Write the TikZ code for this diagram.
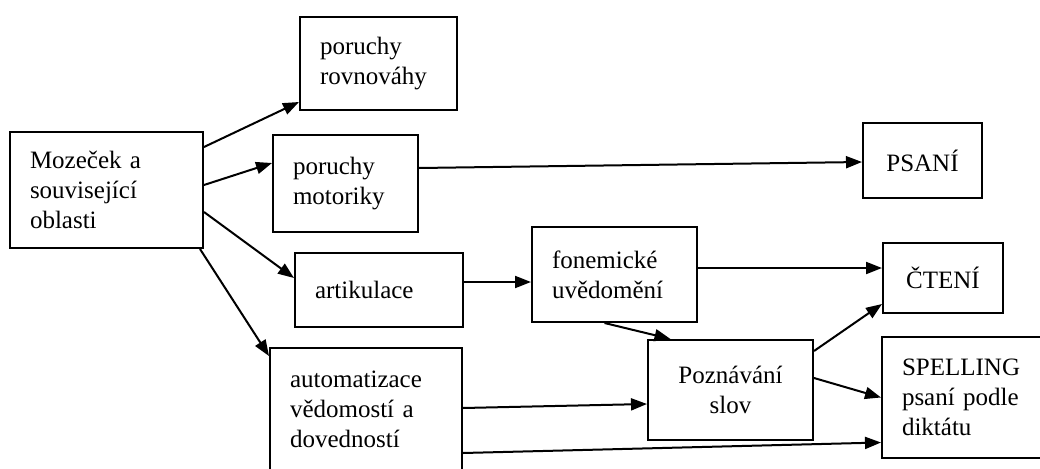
\documentclass[tikz,border=0pt]{standalone}
\usepackage{fontspec}
\setmainfont{Liberation Serif}
\usepackage{tikz}
\usetikzlibrary{arrows.meta}

\begin{document}
\begin{tikzpicture}[x=1pt, y=-1pt]
        % Define block styles
        \tikzstyle{block} = [rectangle, draw, line width=2pt, inner xsep=20pt, inner ysep=0pt,
                             align=left, font=\fontsize{25}{30}\selectfont]
        \tikzstyle{arrow} = [line width=2pt, -{Triangle[length=16pt, width=12pt]}]

        \useasboundingbox (0,0) rectangle (1040,468);

        % Blocks
        \node (mozecek) [block, text width=153pt, minimum height=116pt] at (106.5,190) {Mozeček a\\související\\oblasti};
        \node (rovnovaha) [block, text width=117pt, minimum height=93pt] at (378.5,63.5) {poruchy\\rovnováhy};
        \node (motorika) [block, text width=105pt, minimum height=97pt] at (345.5,183.5) {poruchy\\motoriky};
        \node (artikulace) [block, text width=128pt, minimum height=74pt] at (379,290) {artikulace};
        \node (fonemy) [block, text width=125pt, minimum height=95pt] at (614.5,274.5) {fonemické\\uvědomění};
        \node (automat) [block, text width=152pt, minimum height=122pt] at (366,409) {automatizace\\vědomostí a\\dovedností};
        \node (slova) [block, align=center, text width=125pt, minimum height=100pt] at (730.5,390) {Poznávání\\slov};
        \node (psani) [block, align=center, text width=79pt, minimum height=75pt] at (922.5,160.5) {PSANÍ};
        \node (cteni) [block, align=center, text width=80pt, minimum height=70pt] at (943,278) {ČTENÍ};
        \node (spelling) [block, text width=125pt, minimum height=121pt] at (964.5,397.5) {SPELLING\\psaní podle\\diktátu};

        % Arrows
        \draw [arrow] ([yshift=43pt]mozecek.east) -- ([yshift=-38.5pt]rovnovaha.west);
        \draw [arrow] ([yshift=5pt]mozecek.east) -- ([yshift=20.5pt]motorika.west);
        \draw [arrow] ([yshift=-22pt]mozecek.east) -- ([yshift=12pt]artikulace.west);
        \draw [arrow] ([xshift=-4pt]mozecek.south east) -- ([yshift=-9pt]automat.north west);
        \draw [arrow] ([yshift=15.5pt]motorika.east) -- ([yshift=-1.5pt]psani.west);
        \draw [arrow] ([yshift=8pt]artikulace.east) -- ([yshift=-7.5pt]fonemy.west);
        \draw [arrow] ([yshift=6.5pt]fonemy.east) -- ([yshift=10pt]cteni.west);
        \draw [arrow] ([xshift=-10pt]fonemy.south) -- ([xshift=-60pt]slova.north);
        \draw [arrow] ([yshift=-12pt]slova.north east) -- ([yshift=10pt]cteni.south west);
        \draw [arrow] ([yshift=12pt]slova.east) -- (spelling.west);
        \draw [arrow] ([yshift=1pt]automat.east) -- ([yshift=-14pt]slova.west);
        \draw [arrow] ([yshift=-44pt]automat.east) -- ([yshift=-45pt]spelling.west);
\end{tikzpicture}
\end{document}
